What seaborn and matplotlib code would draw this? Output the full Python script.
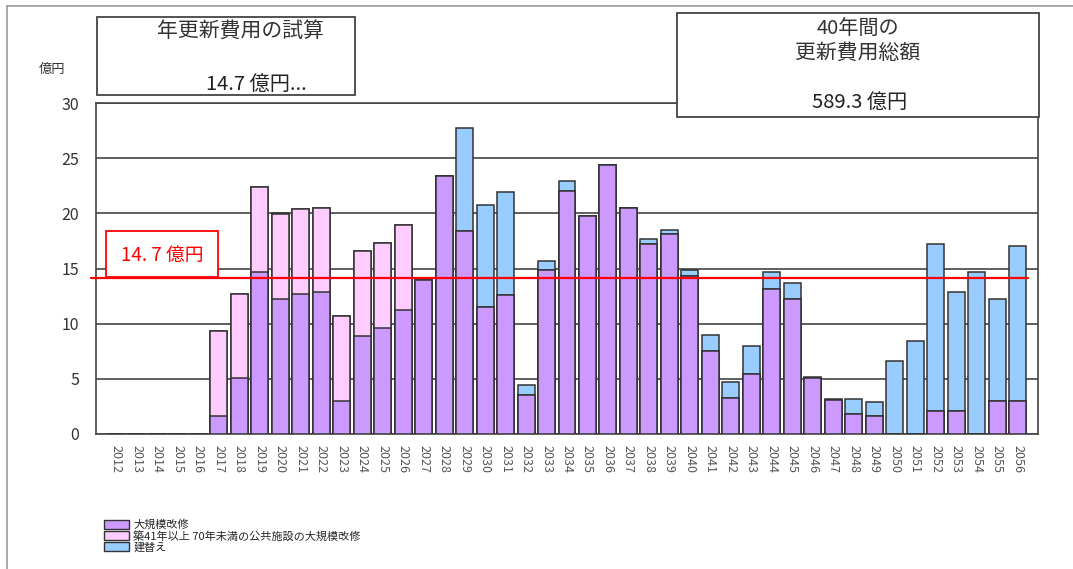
import pandas as pd
import matplotlib.pyplot as plt
import seaborn as sns
from matplotlib.patches import Rectangle
from matplotlib.lines import Line2D

# データ（億円）
years = [str(y) for y in range(2012, 2057)]
kibo_kaishu = [0, 0, 0, 0, 0,
               1.6, 5.05, 14.7, 12.2, 12.7, 12.9, 3.0, 8.85, 9.6, 11.2,
               13.95, 23.4, 18.4, 11.5, 12.6, 3.5, 14.9, 22.0, 19.8, 24.4,
               20.5, 17.25, 18.1, 14.3, 7.55, 3.26, 5.4, 13.1, 12.2, 5.07,
               3.05, 1.8, 1.6, 0, 0, 2.05, 2.05, 0, 3.0, 3.0]
chiku41 = [0, 0, 0, 0, 0,
           7.7, 7.65, 7.7, 7.7, 7.7, 7.6, 7.7, 7.7, 7.7, 7.7,
           0, 0, 0, 0, 0, 0, 0, 0, 0, 0,
           0, 0, 0, 0, 0, 0, 0, 0, 0, 0,
           0, 0, 0, 0, 0, 0, 0, 0, 0, 0]
tatekae = [0, 0, 0, 0, 0,
           0, 0, 0, 0.1, 0, 0, 0, 0, 0, 0,
           0, 0, 9.3, 9.3, 9.3, 0.9, 0.8, 0.9, 0, 0,
           0, 0.45, 0.4, 0.6, 1.45, 1.44, 2.6, 1.55, 1.5, 0.08,
           0.15, 1.4, 1.3, 6.6, 8.45, 15.15, 10.85, 14.65, 9.2, 14.0]
heikin = 14.1
labels = ["大規模改修", "築41年以上 70年未満の公共施設の大規模改修", "建替え"]
colors = ["#CC99FF", "#FFCCFF", "#99CCFF"]

df = pd.DataFrame({"year": years, "a": kibo_kaishu, "b": chiku41, "c": tatekae})
df["ab"] = df["a"] + df["b"]
df["abc"] = df["ab"] + df["c"]

sns.set_style("white")
plt.rcParams["font.family"] = ["Noto Sans CJK JP", "DejaVu Sans"]

W, H = 1073, 569
fig = plt.figure(figsize=(W / 100, H / 100), dpi=100)
ax = fig.add_axes([96 / W, 1 - 434 / H, (1038 - 96) / W, (434 - 103) / H])

def fx(x):
    return x / W

def fy(y):
    return 1 - y / H

# 積み上げ棒（上から順に重ねて描く）
for col, c in [("abc", colors[2]), ("ab", colors[1]), ("a", colors[0])]:
    sns.barplot(data=df, x="year", y=col, color=c, width=0.83,
                edgecolor="#333333", linewidth=1.1, saturation=1, ax=ax, zorder=3)

ax.plot([-1.25, 44.5], [heikin, heikin], color="red", lw=1.6, clip_on=False, zorder=5)

ax.set_xlim(-1, 45)
ax.set_ylim(0, 30)
ax.set_yticks(range(0, 31, 5))
ax.grid(axis="y", color="#444444", lw=1.2, zorder=0)
ax.set_axisbelow(True)
ax.set_xlabel("")
ax.set_ylabel("")
ax.tick_params(axis="x", direction="inout", length=8, width=1, labelrotation=270,
               labelsize=9, labelcolor="#555555", pad=4)
ax.tick_params(axis="y", direction="out", length=10, width=1.2, color="#444444",
               labelsize=11.5, labelcolor="#333333", pad=2)
for s in ax.spines.values():
    s.set_color("#444444")
    s.set_linewidth(1.2)

fig.text(fx(52), fy(69), "億円", fontsize=9.5, ha="center", va="center", color="#333333")

# 外枠
fig.add_artist(Line2D([fx(7), 1], [fy(6), fy(6)], color="#999999", lw=1.2))
fig.add_artist(Line2D([fx(7), fx(7)], [fy(6), 0], color="#999999", lw=1.2))

# 上部の枠とテキスト
fig.add_artist(Rectangle((fx(97), fy(95)), (355 - 97) / W, (95 - 17) / H,
                         fill=True, facecolor="white", edgecolor="#444444", lw=1.3, zorder=6))
fig.text(fx(240), fy(31), "年更新費用の試算", fontsize=15, ha="center", va="center",
         color="#333333", zorder=7)
fig.text(fx(256), fy(84), "14.7 億円...", fontsize=14.5, ha="center", va="center",
         color="#222222", zorder=7)

fig.add_artist(Rectangle((fx(677), fy(117)), (1039 - 677) / W, (117 - 13) / H,
                         fill=True, facecolor="white", edgecolor="#444444", lw=1.3, zorder=6))
fig.text(fx(858), fy(28), "40年間の", fontsize=14.5, ha="center", va="center", color="#333333", zorder=7)
fig.text(fx(858), fy(53), "更新費用総額", fontsize=15, ha="center", va="center", color="#333333", zorder=7)
fig.text(fx(860), fy(102), "589.3 億円", fontsize=14.5, ha="center", va="center", color="#222222", zorder=7)

# 平均線のラベル
fig.add_artist(Rectangle((fx(106), fy(277)), (218 - 106) / W, (277 - 231) / H,
                         fill=True, facecolor="white", edgecolor="red", lw=1.3, zorder=6))
fig.text(fx(162), fy(255), "14. 7 億円", fontsize=13.5, ha="center", va="center",
         color="red", zorder=7)

# 凡例
handles = [Rectangle((0, 0), 1, 1, facecolor=c, edgecolor="#333333", lw=1) for c in colors]
fig.legend(handles, labels, loc="upper left", bbox_to_anchor=(fx(100), fy(515)),
           frameon=False, fontsize=8, handlelength=2.2, handleheight=0.9,
           handletextpad=0.4, labelspacing=0.05, borderaxespad=0)

fig.savefig("out.png", dpi=100)
